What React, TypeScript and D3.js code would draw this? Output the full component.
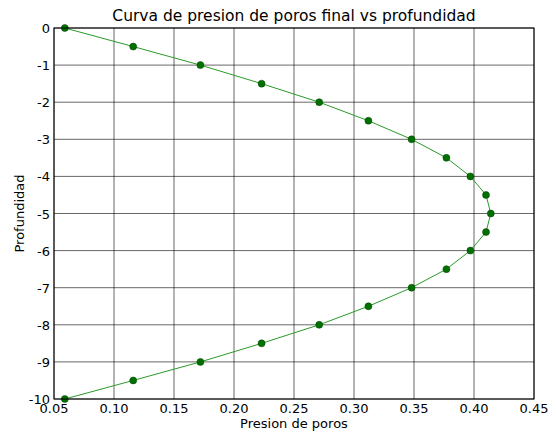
import React from "react";
import * as d3 from "d3";

const depths = [0, -0.5, -1, -1.5, -2, -2.5, -3, -3.5, -4, -4.5, -5, -5.5, -6, -6.5, -7, -7.5, -8, -8.5, -9, -9.5, -10];
const pressures = [0.059, 0.116, 0.172, 0.223, 0.271, 0.312, 0.348, 0.377, 0.397, 0.41, 0.414, 0.41, 0.397, 0.377, 0.348, 0.312, 0.271, 0.223, 0.172, 0.116, 0.059];
const xTicks = [0.05, 0.1, 0.15, 0.2, 0.25, 0.3, 0.35, 0.4, 0.45];
const yTicks = [0, -1, -2, -3, -4, -5, -6, -7, -8, -9, -10];

const W = 556, H = 436;
const L = 54, R = 534, T = 28, B = 399;
const font = "DejaVu Sans, sans-serif";

export default function App() {
  const x = d3.scaleLinear().domain([0.05, 0.45]).range([L, R]);
  const y = d3.scaleLinear().domain([0, -10]).range([T, B]);
  const pts = depths.map((d, i) => [pressures[i], d] as [number, number]);
  const line = d3.line<[number, number]>().x(d => x(d[0])).y(d => y(d[1]));
  return (
    <svg width={W} height={H} style={{ position: "absolute", left: 0, top: 0, background: "#fff" }}>
      <rect x={0} y={0} width={W} height={H} fill="#fff" />
      {xTicks.map(t => (
        <line key={"gx" + t} x1={x(t)} x2={x(t)} y1={T} y2={B} stroke="#000" strokeWidth={0.6} />
      ))}
      {yTicks.map(t => (
        <line key={"gy" + t} x1={L} x2={R} y1={y(t)} y2={y(t)} stroke="#000" strokeWidth={0.6} />
      ))}
      <path d={line(pts) || ""} fill="none" stroke="#2a9a2a" strokeWidth={1} />
      {pts.map((p, i) => (
        <circle key={i} cx={x(p[0])} cy={y(p[1])} r={3.5} fill="#007000" stroke="#004000" strokeWidth={0.5} />
      ))}
      <rect x={L} y={T} width={R - L} height={B - T} fill="none" stroke="#000" strokeWidth={1} />
      {xTicks.map(t => (
        <text key={"tx" + t} x={x(t)} y={413} fontSize={13} fontFamily={font} textAnchor="middle">{t.toFixed(2)}</text>
      ))}
      {yTicks.map(t => (
        <text key={"ty" + t} x={50} y={y(t) + 5} fontSize={13} fontFamily={font} textAnchor="end">{String(t).replace("−", "-")}</text>
      ))}
      <text x={(L + R) / 2} y={21} fontSize={15.5} fontFamily={font} textAnchor="middle">Curva de presion de poros final vs profundidad</text>
      <text x={(L + R) / 2} y={428} fontSize={13} fontFamily={font} textAnchor="middle">Presion de poros</text>
      <text transform={`translate(24,${(T + B) / 2}) rotate(-90)`} fontSize={13} fontFamily={font} textAnchor="middle">Profundidad</text>
    </svg>
  );
}
